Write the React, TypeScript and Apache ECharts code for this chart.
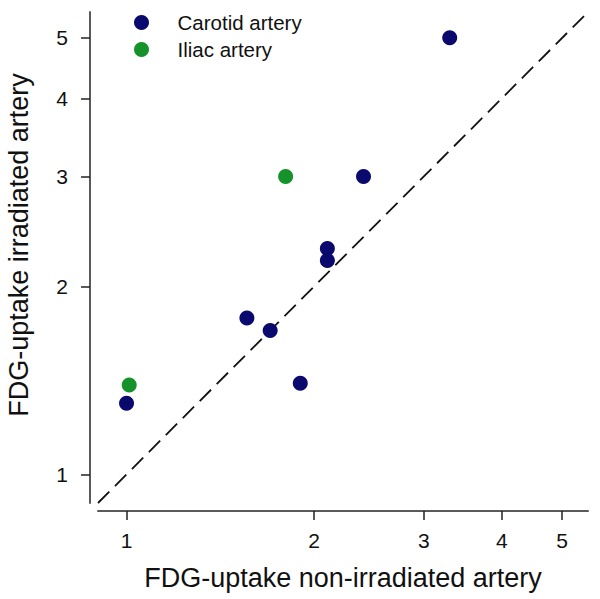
import React, { useEffect, useRef } from "react";
import * as echarts from "echarts";

const tickValues = [1, 2, 3, 4, 5];
const carotidX = [3.3, 2.4, 2.1, 2.1, 1.56, 1.7, 1.9, 1.0];
const carotidY = [5.0, 3.0, 2.3, 2.2, 1.78, 1.7, 1.4, 1.3];
const iliacX = [1.8, 1.01];
const iliacY = [3.0, 1.39];
const identityLine = [0.9, 5.5];
const seriesNames = ["Carotid artery", "Iliac artery"];
const xTitle = "FDG-uptake non-irradiated artery";
const yTitle = "FDG-uptake irradiated artery";

const NAVY = "#0a0a6e";
const GREEN = "#15922a";
const FONT = "'Liberation Sans', Arial, sans-serif";

export default function App() {
  const ref = useRef<HTMLDivElement>(null);
  useEffect(() => {
    if (!ref.current) return;
    const chart = echarts.init(ref.current, null, { renderer: "svg" });
    const axisCommon = (isX: boolean) => ({
      type: "log" as const,
      logBase: 10,
      min: 0.9,
      max: 5.5,
      offset: 8,
      splitLine: { show: false },
      axisLine: { show: true, lineStyle: { color: "#5a5a5a", width: 2 } },
      axisTick: {
        show: true,
        length: 9,
        customValues: tickValues,
        lineStyle: { color: "#222", width: 1.5 },
      },
      axisLabel: {
        customValues: tickValues,
        fontSize: 21,
        fontFamily: FONT,
        color: "#111",
        margin: isX ? 19 : 22,
        showMinLabel: true,
        showMaxLabel: true,
      },
    });
    chart.setOption({
      animation: false,
      backgroundColor: "#ffffff",
      textStyle: { fontFamily: FONT },
      grid: { left: 98, right: 12, top: 12, bottom: 96, containLabel: false },
      legend: {
        orient: "vertical",
        left: 129,
        top: 7,
        itemWidth: 62,
        itemHeight: 15,
        itemGap: 6,
        icon: "circle",
        data: seriesNames,
        textStyle: { fontSize: 20.5, fontFamily: FONT, color: "#111" },
      },
      xAxis: {
        ...axisCommon(true),
        name: xTitle,
        nameLocation: "middle",
        nameGap: 53,
        nameTextStyle: { fontSize: 27, fontFamily: FONT, color: "#111" },
      },
      yAxis: {
        ...axisCommon(false),
      },
      graphic: [
        {
          type: "text",
          x: 19,
          y: 245,
          rotation: Math.PI / 2,
          style: {
            text: yTitle,
            fontSize: 27,
            fontFamily: FONT,
            fill: "#111",
            textAlign: "center",
            textVerticalAlign: "middle",
          },
        },
      ],
      series: [
        {
          type: "line",
          data: identityLine.map((v) => [v, v]),
          symbol: "none",
          silent: true,
          lineStyle: { color: "#111", width: 1.8, type: [16, 8] },
          z: 1,
        },
        {
          name: seriesNames[0],
          type: "scatter",
          symbol: "circle",
          symbolSize: 15,
          itemStyle: { color: NAVY, opacity: 1 },
          data: carotidX.map((x, i) => [x, carotidY[i]]),
          z: 3,
        },
        {
          name: seriesNames[1],
          type: "scatter",
          symbol: "circle",
          symbolSize: 15,
          itemStyle: { color: GREEN, opacity: 1 },
          data: iliacX.map((x, i) => [x, iliacY[i]]),
          z: 3,
        },
      ],
    });
    return () => chart.dispose();
  }, []);
  return <div ref={ref} style={{ width: 600, height: 599, position: "absolute", left: 0, top: 0 }} />;
}
